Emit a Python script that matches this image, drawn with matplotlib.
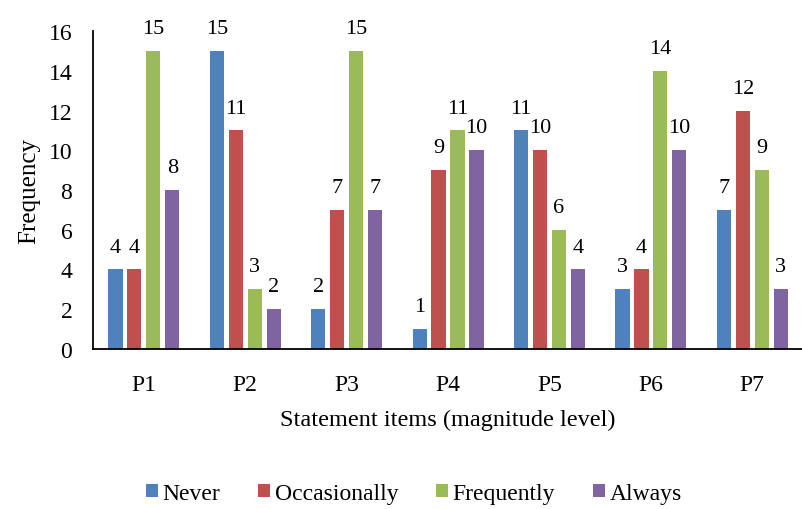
import numpy as np
import matplotlib.pyplot as plt

items = ["P1", "P2", "P3", "P4", "P5", "P6", "P7"]
never = [4, 15, 2, 1, 11, 3, 7]
occasionally = [4, 11, 7, 9, 10, 4, 12]
frequently = [15, 3, 15, 11, 6, 14, 9]
always = [8, 2, 7, 10, 4, 10, 3]

series = [("Never", never, "#4F81BD"),
          ("Occasionally", occasionally, "#C0504D"),
          ("Frequently", frequently, "#9BBB59"),
          ("Always", always, "#8064A2")]

plt.rcParams['font.family'] = ['Liberation Serif', 'DejaVu Serif']

fig = plt.figure(figsize=(8.03, 5.10), dpi=100)
ax = fig.add_axes([0.116, 0.314, 0.884, 0.623])

x = np.arange(len(items))
slot = 0.187
width = 0.14
for i, (name, vals, color) in enumerate(series):
    pos = x + (i - 1.5) * slot
    bars = ax.bar(pos, vals, width, color=color, label=name)
    for b, v in zip(bars, vals):
        ax.text(b.get_x() + b.get_width() / 2, v + 0.9, str(v),
                ha='center', va='baseline', fontsize=16)

ax.set_xlim(-0.5, len(items) - 0.5)
ax.set_ylim(0, 16)
ax.set_yticks(range(0, 17, 2))
ax.set_xticks(x)
ax.set_xticklabels(items)
ax.tick_params(axis='both', length=0, labelsize=17)
ax.tick_params(axis='y', pad=15)
ax.tick_params(axis='x', pad=18)

for s in ['top', 'right']:
    ax.spines[s].set_visible(False)
ax.spines['left'].set_linewidth(1.3)
ax.spines['bottom'].set_linewidth(1.3)

ax.set_ylabel("Frequency", fontsize=18, labelpad=6)
ax.set_xlabel("Statement items (magnitude level)", fontsize=17.5, labelpad=10)

ax.legend(loc='center', bbox_to_anchor=(0.452, -0.455), ncol=4,
          frameon=False, fontsize=17, handlelength=0.5, handleheight=0.5,
          handletextpad=0.2, columnspacing=1.6)

fig.savefig("out.png", dpi=100)
